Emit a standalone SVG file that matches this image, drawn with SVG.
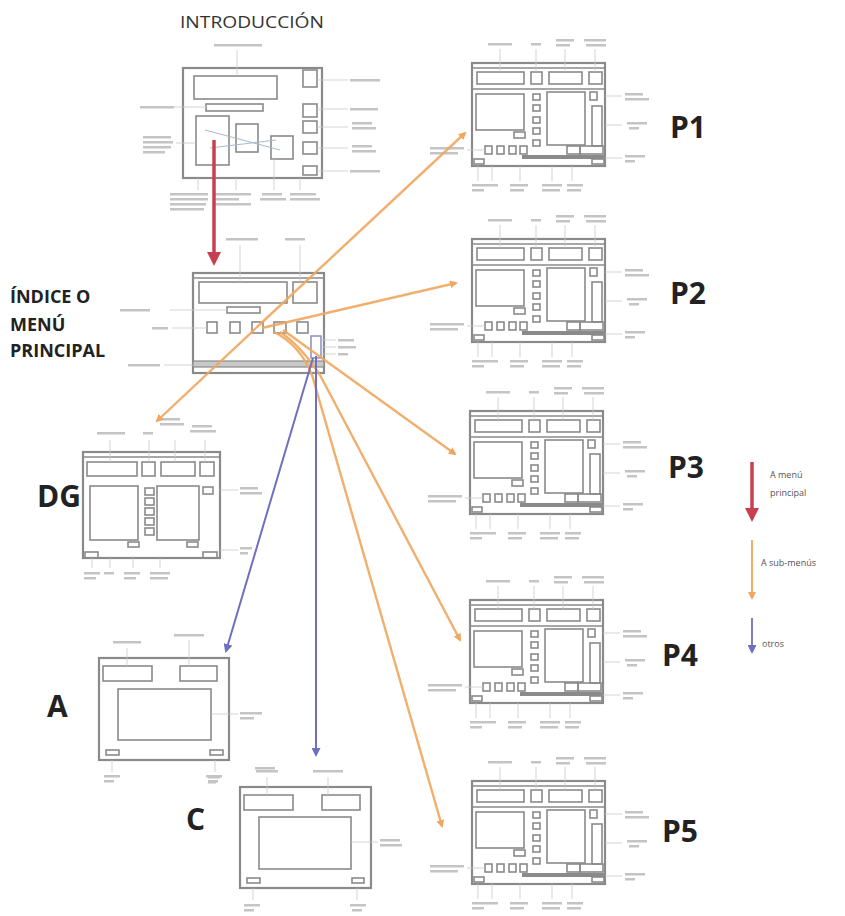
<svg xmlns="http://www.w3.org/2000/svg" xmlns:xlink="http://www.w3.org/1999/xlink" width="845" height="916" viewBox="0 0 845 916">
<style>
.fr{fill:none;stroke:#8a8a8a;stroke-width:2.2}
.in{fill:none;stroke:#8a8a8a;stroke-width:1.6}
.lb{fill:#c4c4c4}
.ld{stroke:#c8c8c8;stroke-width:0.8;fill:none}
.big{font-family:"Open Sans","Liberation Sans",sans-serif;font-weight:bold;fill:#222}
.leg{font-family:"Open Sans","Liberation Sans",sans-serif;font-size:9px;fill:#555}
.or{stroke:#f0a65e;stroke-width:2.4;fill:none;stroke-opacity:0.9}
.bl{stroke:#6f6fbf;stroke-width:2;fill:none}
.rd{stroke:#c8404f;stroke-width:3.5;fill:none}
</style>
<defs>
<marker id="mo" markerWidth="8" markerHeight="8" refX="6" refY="4" orient="auto" markerUnits="userSpaceOnUse"><path d="M0,0 L8,4 L0,8 Z" fill="#f0a65e"/></marker>
<marker id="mb" markerWidth="9" markerHeight="9" refX="7" refY="4.5" orient="auto" markerUnits="userSpaceOnUse"><path d="M0,0 L9,4.5 L0,9 Z" fill="#6f6fbf"/></marker>
<marker id="mr" markerWidth="14" markerHeight="14" refX="10" refY="7" orient="auto" markerUnits="userSpaceOnUse"><path d="M0,0 L14,7 L0,14 Z" fill="#c8404f"/></marker>
<g id="pframe">
<rect class="fr" x="0" y="0" width="133" height="103"/>
<line class="in" x1="0" y1="5" x2="133" y2="5"/>
<rect class="in" x="5" y="9" width="47" height="12"/>
<rect class="in" x="59" y="9" width="11" height="12"/>
<rect class="in" x="77" y="9" width="33" height="12"/>
<rect class="in" x="117" y="9" width="13" height="12"/>
<line class="in" x1="0" y1="26" x2="133" y2="26"/>
<rect class="in" x="4" y="31" width="48" height="36"/>
<rect class="in" x="42" y="69" width="11" height="6"/>
<rect class="in" x="61" y="31" width="7" height="6"/>
<rect class="in" x="61" y="42" width="7" height="6"/>
<rect class="in" x="61" y="54" width="7" height="6"/>
<rect class="in" x="61" y="65" width="7" height="6"/>
<rect class="in" x="61" y="77" width="7" height="6"/>
<rect class="in" x="75" y="29" width="38" height="53"/>
<rect class="in" x="118" y="29" width="7" height="8"/>
<rect class="in" x="120" y="43" width="10" height="40"/>
<rect class="in" x="13" y="83" width="7" height="8"/>
<rect class="in" x="25" y="83" width="7" height="8"/>
<rect class="in" x="37" y="83" width="7" height="8"/>
<rect class="in" x="48" y="83" width="7" height="8"/>
<rect class="in" x="95" y="83" width="13" height="8"/>
<rect class="in" x="108" y="83" width="23" height="8"/>
<rect x="50" y="92" width="83" height="4" fill="#8a8a8a"/>
<rect class="in" x="2" y="96" width="10" height="5"/>
<rect class="in" x="120" y="96" width="12" height="5"/>
<path class="ld" d="M28 -14V9M64 -14V9M93 -14V9M123 -14V9M133 33H150M133 62H150M133 95H150M6 103V118M20 103V118M48 103V118M80 103V118M100 103V118M-5 87H13"/>
<rect class="lb" x="16" y="-20" width="24" height="2.5"/>
<rect class="lb" x="59" y="-20" width="10" height="2.5"/>
<rect class="lb" x="84" y="-24" width="18" height="2.5"/>
<rect class="lb" x="84" y="-19" width="14" height="2.5"/>
<rect class="lb" x="112" y="-24" width="22" height="2.5"/>
<rect class="lb" x="114" y="-19" width="20" height="2.5"/>
<rect class="lb" x="153" y="30" width="18" height="2.5"/>
<rect class="lb" x="153" y="35" width="24" height="2.5"/>
<rect class="lb" x="155" y="59" width="20" height="2.5"/>
<rect class="lb" x="157" y="64" width="10" height="2.5"/>
<rect class="lb" x="153" y="92" width="20" height="2.5"/>
<rect class="lb" x="153" y="97" width="10" height="2.5"/>
<rect class="lb" x="-42" y="84" width="34" height="2.5"/>
<rect class="lb" x="-42" y="89" width="28" height="2.5"/>
<rect class="lb" x="0" y="121" width="16" height="2.5"/>
<rect class="lb" x="0" y="126" width="12" height="2.5"/>
<rect class="lb" x="16" y="121" width="10" height="2.5"/>
<rect class="lb" x="38" y="121" width="18" height="2.5"/>
<rect class="lb" x="38" y="126" width="14" height="2.5"/>
<rect class="lb" x="70" y="121" width="20" height="2.5"/>
<rect class="lb" x="70" y="126" width="18" height="2.5"/>
<rect class="lb" x="95" y="121" width="16" height="2.5"/>
<rect class="lb" x="95" y="126" width="14" height="2.5"/>
</g>
</defs>
<rect width="845" height="916" fill="#ffffff"/>

<g id="intro">
<text x="252" y="28" text-anchor="middle" font-family="'Open Sans','Liberation Sans',sans-serif" font-size="17" fill="#333" textLength="144" lengthAdjust="spacingAndGlyphs">INTRODUCCIÓN</text>
<rect class="fr" x="183" y="68" width="139" height="110"/>
<rect class="in" x="194" y="76" width="83" height="23"/>
<rect class="in" x="206" y="104" width="57" height="7"/>
<rect class="in" x="196" y="116" width="33" height="49"/>
<rect class="in" x="236" y="124" width="22" height="28" stroke="#c0c8d8"/>
<rect class="in" x="271" y="136" width="22" height="23"/>
<path d="M205 130L280 150M210 148L276 140" stroke="#a8b8cc" stroke-width="1" fill="none"/>
<rect class="in" x="303" y="70" width="14" height="17"/>
<rect class="in" x="303" y="104" width="14" height="13"/>
<rect class="in" x="303" y="121" width="14" height="12"/>
<rect class="in" x="303" y="142" width="14" height="12"/>
<rect class="in" x="303" y="166" width="14" height="9"/>
<path class="ld" d="M237 50V76M317 80H348M317 109H348M317 127H348M317 148H348M317 171H348M174 107H206M176 143H196M198 178V190M236 178V190M274 159V190M300 178V190"/>
<rect class="lb" x="214" y="44" width="48" height="2.5"/>
<rect class="lb" x="350" y="79" width="30" height="2.5"/>
<rect class="lb" x="350" y="108" width="28" height="2.5"/>
<rect class="lb" x="352" y="122" width="20" height="2.5"/>
<rect class="lb" x="352" y="127" width="24" height="2.5"/>
<rect class="lb" x="352" y="145" width="20" height="2.5"/>
<rect class="lb" x="352" y="150" width="24" height="2.5"/>
<rect class="lb" x="350" y="170" width="30" height="2.5"/>
<rect class="lb" x="140" y="106" width="34" height="2.5"/>
<rect class="lb" x="143" y="136" width="28" height="2.5"/>
<rect class="lb" x="143" y="141" width="30" height="2.5"/>
<rect class="lb" x="143" y="146" width="28" height="2.5"/>
<rect class="lb" x="143" y="151" width="22" height="2.5"/>
<rect class="lb" x="170" y="193" width="38" height="2.5"/>
<rect class="lb" x="170" y="198" width="38" height="2.5"/>
<rect class="lb" x="170" y="203" width="36" height="2.5"/>
<rect class="lb" x="170" y="208" width="34" height="2.5"/>
<rect class="lb" x="215" y="193" width="36" height="2.5"/>
<rect class="lb" x="215" y="198" width="24" height="2.5"/>
<rect class="lb" x="215" y="203" width="36" height="2.5"/>
<rect class="lb" x="262" y="193" width="20" height="2.5"/>
<rect class="lb" x="260" y="198" width="26" height="2.5"/>
<rect class="lb" x="290" y="193" width="26" height="2.5"/>
<rect class="lb" x="290" y="198" width="30" height="2.5"/>
</g>

<g id="menu">
<text class="big" font-size="18"><tspan x="10" y="303">ÍNDICE O</tspan><tspan x="10" y="331">MENÚ</tspan><tspan x="10" y="357">PRINCIPAL</tspan></text>
<rect class="fr" x="193" y="273" width="131" height="100"/>
<line class="in" x1="193" y1="278" x2="324" y2="278"/>
<rect class="in" x="199" y="282" width="88" height="21"/>
<rect class="in" x="293" y="282" width="24" height="21"/>
<rect class="in" x="227" y="307" width="33" height="6"/>
<rect class="in" x="207" y="322" width="10" height="11"/>
<rect class="in" x="230" y="322" width="10" height="11"/>
<rect class="in" x="252" y="322" width="11" height="11"/>
<rect class="in" x="274" y="322" width="12" height="11"/>
<rect class="in" x="297" y="322" width="11" height="11"/>
<rect x="311" y="336" width="10" height="22" fill="none" stroke="#8c8cc8" stroke-width="1.5"/>
<rect x="193" y="361" width="131" height="6" fill="#c8c8c8" stroke="#8a8a8a" stroke-width="1.2"/>
<path class="ld" d="M240 245V282M300 245V282M170 310H227M172 328H207M164 365H193M322 340H336M322 347H336M322 354H336"/>
<rect class="lb" x="226" y="238" width="32" height="2.5"/>
<rect class="lb" x="285" y="238" width="20" height="2.5"/>
<rect class="lb" x="120" y="309" width="30" height="2.5"/>
<rect class="lb" x="152" y="327" width="16" height="2.5"/>
<rect class="lb" x="128" y="364" width="32" height="2.5"/>
<rect class="lb" x="338" y="339" width="16" height="2.5"/>
<rect class="lb" x="338" y="346" width="18" height="2.5"/>
<rect class="lb" x="338" y="353" width="10" height="2.5"/>
</g>

<g id="p1"><use xlink:href="#pframe" href="#pframe" x="472" y="63"/><text class="big" x="670" y="138" font-size="30">P1</text></g>
<g id="p2"><use xlink:href="#pframe" href="#pframe" x="472" y="239"/><text class="big" x="670" y="304" font-size="30">P2</text></g>
<g id="p3"><use xlink:href="#pframe" href="#pframe" x="470" y="411"/><text class="big" x="668" y="478" font-size="30">P3</text></g>
<g id="p4"><use xlink:href="#pframe" href="#pframe" x="470" y="600"/><text class="big" x="662" y="666" font-size="30">P4</text></g>
<g id="p5"><use xlink:href="#pframe" href="#pframe" x="472" y="781"/><text class="big" x="662" y="842" font-size="30">P5</text></g>

<g id="dg">
<text class="big" x="37" y="507" font-size="30">DG</text>
<rect class="fr" x="83" y="452" width="137" height="106"/>
<line class="in" x1="83" y1="457" x2="220" y2="457"/>
<rect class="in" x="87" y="462" width="50" height="14"/>
<rect class="in" x="142" y="462" width="13" height="14"/>
<rect class="in" x="161" y="462" width="34" height="14"/>
<rect class="in" x="200" y="462" width="14" height="14"/>
<rect class="in" x="90" y="486" width="48" height="54"/>
<rect class="in" x="145" y="488" width="9" height="7"/>
<rect class="in" x="145" y="498" width="9" height="7"/>
<rect class="in" x="145" y="508" width="9" height="7"/>
<rect class="in" x="145" y="518" width="9" height="7"/>
<rect class="in" x="145" y="528" width="9" height="7"/>
<rect class="in" x="157" y="486" width="42" height="54"/>
<rect class="in" x="203" y="487" width="10" height="7"/>
<rect class="in" x="128" y="542" width="11" height="5"/>
<rect class="in" x="187" y="542" width="11" height="5"/>
<rect class="in" x="85" y="552" width="13" height="6"/>
<rect class="in" x="203" y="552" width="14" height="6"/>
<path class="ld" d="M110 440V462M149 440V462M175 440V462M205 440V462M220 490H238M220 550H238M92 558V568M110 558V568M133 558V568M160 558V568"/>
<rect class="lb" x="97" y="432" width="28" height="2.5"/>
<rect class="lb" x="143" y="432" width="10" height="2.5"/>
<rect class="lb" x="162" y="418" width="18" height="2.5"/>
<rect class="lb" x="160" y="423" width="24" height="2.5"/>
<rect class="lb" x="192" y="425" width="20" height="2.5"/>
<rect class="lb" x="190" y="430" width="26" height="2.5"/>
<rect class="lb" x="240" y="487" width="18" height="2.5"/>
<rect class="lb" x="240" y="492" width="22" height="2.5"/>
<rect class="lb" x="240" y="547" width="12" height="2.5"/>
<rect class="lb" x="240" y="552" width="8" height="2.5"/>
<rect class="lb" x="84" y="572" width="16" height="2.5"/>
<rect class="lb" x="84" y="577" width="12" height="2.5"/>
<rect class="lb" x="104" y="572" width="10" height="2.5"/>
<rect class="lb" x="124" y="572" width="16" height="2.5"/>
<rect class="lb" x="124" y="577" width="12" height="2.5"/>
<rect class="lb" x="150" y="572" width="20" height="2.5"/>
<rect class="lb" x="150" y="577" width="18" height="2.5"/>
</g>

<g id="a">
<text class="big" x="47" y="717" font-size="30">A</text>
<rect class="fr" x="99" y="658" width="130" height="102"/>
<rect class="in" x="103" y="666" width="49" height="15"/>
<rect class="in" x="180" y="666" width="37" height="15"/>
<rect class="in" x="118" y="689" width="93" height="51"/>
<rect class="in" x="106" y="750" width="13" height="5"/>
<rect class="in" x="210" y="750" width="13" height="5"/>
<path class="ld" d="M127 648V666M189 640V666M211 714H238M112 760V772M215 760V772"/>
<rect class="lb" x="113" y="641" width="28" height="2.5"/>
<rect class="lb" x="174" y="634" width="30" height="2.5"/>
<rect class="lb" x="240" y="712" width="22" height="2.5"/>
<rect class="lb" x="240" y="717" width="14" height="2.5"/>
<rect class="lb" x="104" y="775" width="16" height="2.5"/>
<rect class="lb" x="104" y="780" width="10" height="2.5"/>
<rect class="lb" x="206" y="775" width="16" height="2.5"/>
<rect class="lb" x="208" y="780" width="10" height="2.5"/>
<rect class="lb" x="255" y="767" width="20" height="2.5"/>
</g>

<g id="c">
<text class="big" x="186" y="830" font-size="30">C</text>
<rect class="fr" x="240" y="787" width="131" height="101"/>
<rect class="in" x="244" y="795" width="49" height="15"/>
<rect class="in" x="322" y="795" width="38" height="15"/>
<rect class="in" x="259" y="817" width="92" height="52"/>
<rect class="in" x="247" y="878" width="13" height="5"/>
<rect class="in" x="352" y="878" width="12" height="5"/>
<path class="ld" d="M267 777V795M328 777V795M351 842H378M253 888V900M357 888V900"/>
<rect class="lb" x="256" y="770" width="22" height="2.5"/>
<rect class="lb" x="313" y="770" width="30" height="2.5"/>
<rect class="lb" x="380" y="839" width="20" height="2.5"/>
<rect class="lb" x="380" y="844" width="22" height="2.5"/>
<rect class="lb" x="244" y="904" width="16" height="2.5"/>
<rect class="lb" x="244" y="909" width="10" height="2.5"/>
<rect class="lb" x="350" y="904" width="16" height="2.5"/>
<rect class="lb" x="352" y="909" width="10" height="2.5"/>
<rect class="lb" x="208" y="776" width="12" height="2.5"/>
<rect class="lb" x="208" y="781" width="8" height="2.5"/>
</g>

<g id="connectors">
<line class="rd" x1="214" y1="140" x2="214" y2="262" marker-end="url(#mr)"/>
<line class="or" x1="256" y1="328" x2="465" y2="133" marker-end="url(#mo)"/>
<line class="or" x1="256" y1="328" x2="157" y2="421" marker-end="url(#mo)"/>
<line class="or" x1="262" y1="328" x2="456" y2="283" marker-end="url(#mo)"/>
<line class="or" x1="283" y1="330" x2="455" y2="454" marker-end="url(#mo)"/>
<path class="or" d="M280 332Q300 345 320 375L460 640" marker-end="url(#mo)"/>
<path class="or" d="M274 332Q300 345 312 375L442 826" marker-end="url(#mo)"/>
<line class="bl" x1="313" y1="358" x2="226" y2="651" marker-end="url(#mb)"/>
<line class="bl" x1="316" y1="356" x2="316" y2="755" marker-end="url(#mb)"/>
</g>

<g id="legend">
<line class="rd" x1="752" y1="462" x2="752" y2="518" marker-end="url(#mr)"/>
<text class="leg" x="770" y="478">A menú</text>
<text class="leg" x="770" y="496">principal</text>
<line x1="752" y1="540" x2="752" y2="598" stroke="#f0a65e" stroke-width="1.8" marker-end="url(#mo)"/>
<text class="leg" x="761" y="566">A sub-menús</text>
<line x1="752" y1="618" x2="752" y2="652" stroke="#6f6fbf" stroke-width="1.8" marker-end="url(#mb)"/>
<text class="leg" x="762" y="647">otros</text>
</g>
</svg>
